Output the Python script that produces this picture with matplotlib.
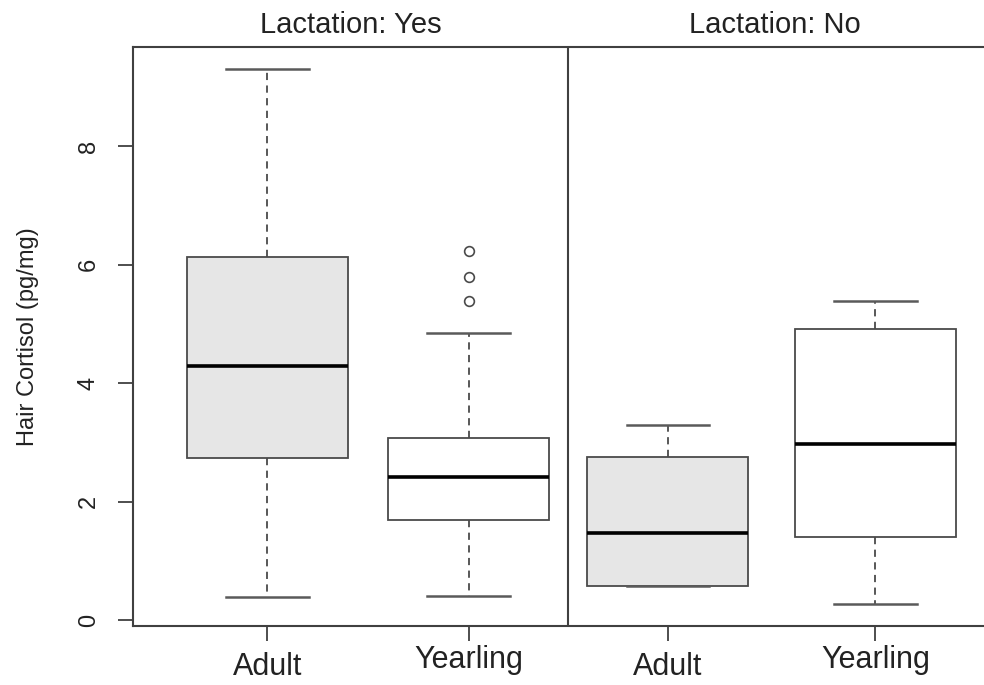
import matplotlib
matplotlib.use("Agg")
import matplotlib.pyplot as plt
import matplotlib.transforms as mtransforms

# box statistics (hair cortisol, pg/mg)
groups = ["Adult", "Yearling", "Adult", "Yearling"]
panels = ["Lactation: Yes", "Lactation: No"]
whislo = [0.39, 0.41, 0.58, 0.27]
q1 = [2.74, 1.69, 0.58, 1.40]
med = [4.29, 2.41, 1.47, 2.98]
q3 = [6.12, 3.07, 2.76, 4.92]
whishi = [9.30, 4.84, 3.29, 5.38]
fliers = [[], [5.38, 5.79, 6.23], [], []]
yticks = [0, 2, 4, 6, 8]

positions = [1, 2, 2.99, 4.02]
fills = ["#e6e6e6", "white", "#e6e6e6", "white"]

plt.rcParams['font.family'] = ['Liberation Sans', 'DejaVu Sans']

fig = plt.figure(figsize=(9.84, 6.85), dpi=100)
# right edge of the frame falls just outside the picture, as in the original
ax = fig.add_axes([133 / 984, 59 / 685, 854 / 984, 579 / 685])

stats = []
for i in range(len(groups)):
    stats.append(dict(whislo=whislo[i], q1=q1[i], med=med[i], q3=q3[i],
                      whishi=whishi[i], fliers=fliers[i], label=groups[i]))

bp = ax.bxp(stats, positions=positions, widths=0.8, patch_artist=True,
            boxprops=dict(edgecolor="#4a4a4a", linewidth=1.3),
            medianprops=dict(color="black", linewidth=2.6, solid_capstyle="butt"),
            whiskerprops=dict(color="#4a4a4a", linewidth=1.3, linestyle=(0, (4, 3))),
            capprops=dict(color="#5a5a5a", linewidth=1.8),
            capwidths=0.41,
            flierprops=dict(marker="o", markersize=7, markerfacecolor="none",
                            markeredgecolor="#4a4a4a", markeredgewidth=1.2))
for patch, c in zip(bp["boxes"], fills):
    patch.set_facecolor(c)

divider = 2.495
ax.axvline(divider, color="#404040", linewidth=1.5)
ax.set_xlim(0.332, 4.575)
ax.set_ylim(-0.095, 9.67)

for sp in ax.spines.values():
    sp.set_color("#404040")
    sp.set_linewidth(1.5)

ax.set_yticks(yticks)
ax.set_yticklabels([str(t) for t in yticks], rotation=90, va="center", fontsize=17,
                   color="#222222")
ax.tick_params(axis="y", length=11, width=1.3, color="#404040", pad=13)
ax.set_xticks(positions)
ax.set_xticklabels(groups, fontsize=22, color="#222222")
ax.tick_params(axis="x", length=11, width=1.3, color="#404040", pad=8)
# R puts labels without descenders a bit lower
for lab in ax.get_xticklabels():
    if lab.get_text() == "Yearling":
        lab.set_transform(lab.get_transform() +
                          mtransforms.ScaledTranslation(0, 7 / 100, fig.dpi_scale_trans))

ax.set_ylabel("Hair Cortisol (pg/mg)", fontsize=17, color="#222222")
ax.yaxis.set_label_coords(-94 / 854, 0.5)

trans = mtransforms.blended_transform_factory(ax.transData, ax.transAxes)
lims = ax.get_xlim()
ax.text((lims[0] + divider) / 2, 1.025, panels[0], transform=trans,
        ha="center", va="baseline", fontsize=21, color="#222222")
ax.text((divider + 4.55) / 2, 1.025, panels[1], transform=trans,
        ha="center", va="baseline", fontsize=21, color="#222222")

fig.savefig("out.png", dpi=100)
